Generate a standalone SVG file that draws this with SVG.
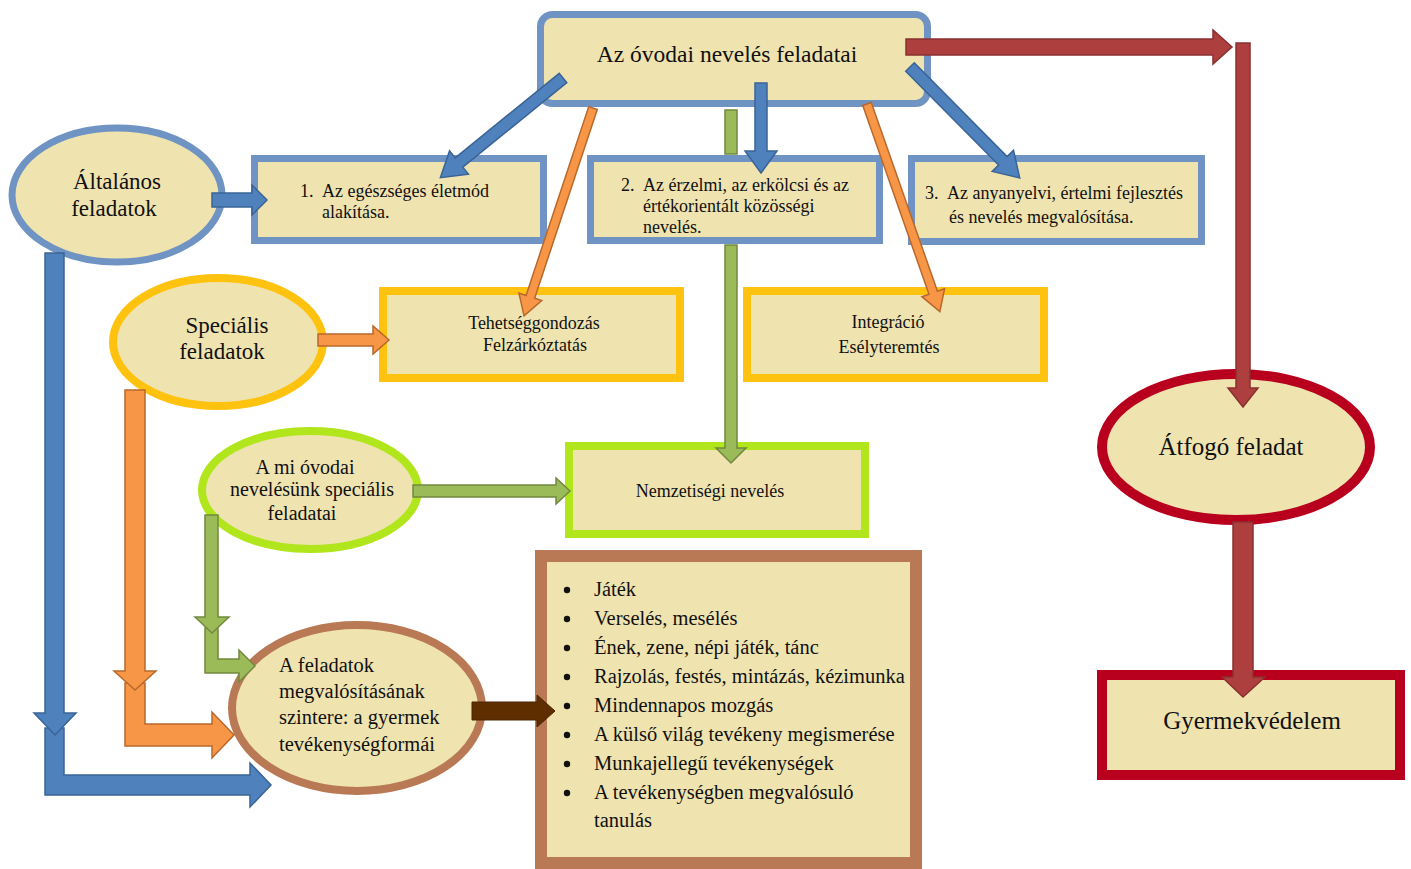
<svg xmlns="http://www.w3.org/2000/svg" width="1411" height="869" viewBox="0 0 1411 869" font-family="'Liberation Serif', serif">
<style>
text{font-family:'Liberation Serif',serif;fill:#111}
.c{text-anchor:middle}
.bl{stroke:#6f93c2;stroke-width:7;fill:#efe3b0}
.ye{stroke:#ffc20e;stroke-width:8;fill:#efe3b0}
.li{stroke:#b1e51c;stroke-width:8;fill:#efe3b0}
.br{stroke:#b87954;fill:#efe3b0}
.rd{stroke:#b8001e;stroke-width:10;fill:#efe3b0}
.aB{fill:#4f81bd;stroke:#3a6496;stroke-width:1.5}
.aO{fill:#f79646;stroke:#b9682c;stroke-width:1.5}
.aG{fill:#9bbb59;stroke:#72893f;stroke-width:1.5}
.aR{fill:#ad3f3e;stroke:#8a3030;stroke-width:1.5}
.aK{fill:#5e2e00;stroke:#4a2400;stroke-width:1}
.s18{font-size:18px}
.s20{font-size:20.5px}
.s23{font-size:23px}
.s25{font-size:25px}
</style>
<rect width="1411" height="869" fill="#ffffff"/>

<g id="top">
<rect x="540.5" y="14.5" width="387" height="89" rx="12" ry="12" class="bl" stroke-width="6"/>
<text x="727" y="62" class="c" font-size="23.5px">Az óvodai nevelés feladatai</text>
</g>

<g id="box1">
<rect x="254.5" y="158.5" width="289" height="82" class="bl"/>
<text x="300" y="197" class="s18">1.</text>
<text x="322" y="197" class="s18">Az egészséges életmód</text>
<text x="322" y="218" class="s18">alakítása.</text>
</g>

<g id="box2">
<rect x="590.5" y="158.5" width="289" height="82" class="bl"/>
<text x="621" y="191" class="s18">2.</text>
<text x="643" y="191" class="s18">Az érzelmi, az erkölcsi és az</text>
<text x="643" y="212" class="s18">értékorientált közösségi</text>
<text x="643" y="233" class="s18">nevelés.</text>
</g>

<g id="box3">
<rect x="911.5" y="158.5" width="290" height="83" class="bl"/>
<text x="925" y="199" class="s18">3.</text>
<text x="947" y="199" class="s18">Az anyanyelvi, értelmi fejlesztés</text>
<text x="949" y="223" class="s18">és nevelés megvalósítása.</text>
</g>

<g id="altalanos">
<ellipse cx="117" cy="195" rx="105" ry="67" class="bl" stroke-width="6"/>
<text x="117" y="189" class="c s23">Általános</text>
<text x="114" y="216" class="c s23">feladatok</text>
</g>

<g id="specialis">
<ellipse cx="218" cy="342" rx="105" ry="64" class="ye" stroke-width="6"/>
<text x="227" y="333" class="c s23">Speciális</text>
<text x="222" y="359" class="c s23">feladatok</text>
</g>

<g id="tehetseg">
<rect x="383" y="291" width="297" height="87" class="ye"/>
<text x="534" y="329" class="c s18">Tehetséggondozás</text>
<text x="535" y="351" class="c s18">Felzárkóztatás</text>
</g>

<g id="integracio">
<rect x="747" y="291" width="297" height="87" class="ye"/>
<text x="888" y="328" class="c s18">Integráció</text>
<text x="889" y="353" class="c s18">Esélyteremtés</text>
</g>

<g id="ami">
<ellipse cx="310" cy="490" rx="108" ry="59" class="li" stroke-width="6"/>
<text x="305" y="474" class="c" font-size="20px">A mi óvodai</text>
<text x="312" y="496" class="c" font-size="20px">nevelésünk speciális</text>
<text x="302" y="520" class="c" font-size="20px">feladatai</text>
</g>

<g id="nemzetisegi">
<rect x="569" y="446" width="296" height="88" class="li"/>
<text x="710" y="497" class="c s18">Nemzetiségi nevelés</text>
</g>

<g id="szintere">
<ellipse cx="357" cy="708" rx="125" ry="83" class="br" stroke-width="8"/>
<text x="279" y="672" class="s20">A feladatok</text>
<text x="279" y="698" class="s20">megvalósításának</text>
<text x="279" y="724" class="s20">szintere: a gyermek</text>
<text x="279" y="751" class="s20">tevékenységformái</text>
</g>

<g id="lista">
<rect x="541" y="556" width="375" height="307" class="br" stroke-width="12"/>
<g fill="#111">
<circle cx="567" cy="590" r="3.2"/>
<circle cx="567" cy="619" r="3.2"/>
<circle cx="567" cy="648" r="3.2"/>
<circle cx="567" cy="677" r="3.2"/>
<circle cx="567" cy="706" r="3.2"/>
<circle cx="567" cy="735" r="3.2"/>
<circle cx="567" cy="764" r="3.2"/>
<circle cx="567" cy="793" r="3.2"/>
</g>
<text x="594" y="596" class="s20">Játék</text>
<text x="594" y="625" class="s20">Verselés, mesélés</text>
<text x="594" y="654" class="s20">Ének, zene, népi játék, tánc</text>
<text x="594" y="683" class="s20">Rajzolás, festés, mintázás, kézimunka</text>
<text x="594" y="712" class="s20">Mindennapos mozgás</text>
<text x="594" y="741" class="s20">A külső világ tevékeny megismerése</text>
<text x="594" y="770" class="s20">Munkajellegű tevékenységek</text>
<text x="594" y="799" class="s20">A tevékenységben megvalósuló</text>
<text x="594" y="827" class="s20">tanulás</text>
</g>

<g id="atfogo">
<ellipse cx="1236" cy="447" rx="134" ry="73" class="rd"/>
<text x="1231" y="455" class="c s25">Átfogó feladat</text>
</g>

<g id="gyermekvedelem">
<rect x="1102" y="675" width="298" height="100" class="rd"/>
<text x="1252" y="729" class="c s25">Gyermekvédelem</text>
</g>

<g id="connectors">
<polygon class="aB" transform="translate(563,78) rotate(140.9)" points="0,-6 134,-6 134,-15 158,0 134,15 134,6 0,6"/>
<polygon class="aB" transform="translate(910,67) rotate(45.3)" points="0,-6 132,-6 132,-15 156,0 132,15 132,6 0,6"/>
<polygon class="aB" transform="translate(761,83) rotate(90)" points="0,-6 68,-6 68,-16 90,0 68,16 68,6 0,6"/>
<polygon class="aO" transform="translate(593,108) rotate(108.35)" points="0,-4.5 199,-4.5 199,-12 219,0 199,12 199,4.5 0,4.5"/>
<polygon class="aO" transform="translate(867,104) rotate(70.66)" points="0,-4.5 200,-4.5 200,-12 220,0 200,12 200,4.5 0,4.5"/>
<rect class="aG" x="725" y="110" width="12" height="44"/>
<polygon class="aG" points="725,245 737,245 737,448 746,448 731,463 716,448 725,448"/>
<polygon class="aB" points="212,193 252,193 252,185 267,200 252,215 252,207 212,207"/>
<polygon class="aO" points="318,334 373,334 373,326 389,340 373,354 373,346 318,346"/>
<polygon class="aG" points="413,485 556,485 556,478 570,491 556,504 556,497 413,497"/>
<polygon class="aK" points="472,702 537,702 537,695 555,711 537,727 537,720 472,720"/>
<polygon class="aR" points="1236,43 1250,43 1250,388 1258,388 1243,407 1228,388 1236,388"/>
<polygon class="aR" points="906,39 1213,39 1213,30 1232,47 1213,64 1213,55 906,55"/>
<polygon class="aR" points="1233,522 1253,522 1253,677 1265,677 1243,697 1222,677 1233,677"/>
<polygon class="aB" points="45,728 64,728 64,775 250,775 250,763 271,785 250,807 250,795 45,795"/>
<polygon class="aB" points="45,253 64,253 64,713 76,713 55,735 34,713 45,713"/>
<polygon class="aO" points="125,683 145,683 145,724 212,724 212,712 234,735 212,758 212,746 125,746"/>
<polygon class="aO" points="125,390 145,390 145,671 156,671 135,690 114,671 125,671"/>
<polygon class="aG" points="205,628 218,628 218,659 239,659 239,650 255,666 239,682 239,673 205,673"/>
<polygon class="aG" points="205,515 218,515 218,617 229,617 212,633 195,617 205,617"/>
</g>
</svg>
